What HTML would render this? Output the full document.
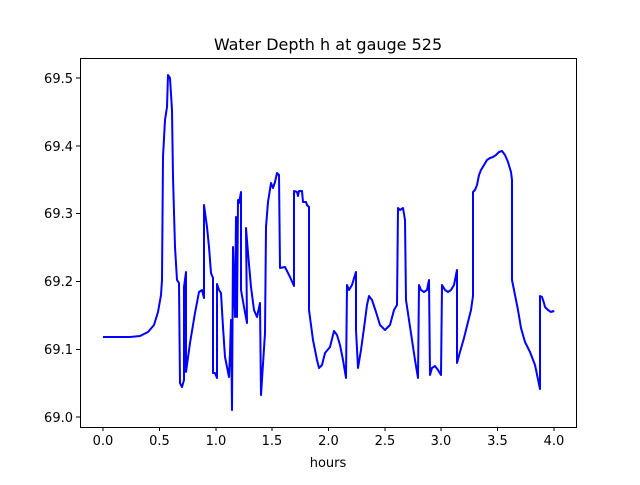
<!DOCTYPE html>
<html><head><style>
html,body{margin:0;padding:0;background:#fff;}
svg text{font-family:"DejaVu Sans","Liberation Sans",sans-serif;fill:#000;}
</style></head><body>
<svg width="640" height="480" viewBox="0 0 640 480" xmlns="http://www.w3.org/2000/svg">
<rect width="640" height="480" fill="#fff"/>
<text x="328" y="50" font-size="16" text-anchor="middle">Water Depth h at gauge 525</text>
<polyline fill="none" stroke="#0000ff" stroke-width="2" stroke-linejoin="round" points="
103,337 130,337 140,336 148,332 154,325 158,312 161,295 162,280 163,157 165,120 167,107 168,75 170,78 172,110 173,177 175,247 177,280 179,283 180,383 182,387 184,380 184,287 186,272 186,372 190,343 195,313 199,292 202,290 204,298 204,205 207,227 209,247 211,273 213,278 213,373 215,373 217,378 217,284 219,290 221,293 223,327 225,357 229,377 230,353 231,320 232,410 233,247 235,317 236,217 237,317 238,200 239,203 241,192 241,290 244,307 247,323 246,228 248,253 251,287 254,310 257,317 260,303 261,395 265,333 266,227 268,202 271,183 273,188 275,182 277,173 279,175 280,268 285,267 290,277 294,286 294,191 297,192 298,196 299,191 302,191 303,202 306,202 307,205 309,207 309,310 313,340 317,360 319,368 322,365 325,353 330,347 334,331 337,335 340,345 343,360 346,378 347,285 349,290 352,285 355,275 356,272 356,330 358,368 361,350 364,328 367,305 369,296 372,300 376,312 380,325 385,330 390,325 394,310 397,305 398,208 400,210 403,208 405,220 406,300 409,320 412,340 415,360 418,378 419,285 421,290 424,292 427,290 429,280 430,375 432,368 435,366 438,370 441,375 442,285 445,290 448,292 451,290 454,285 456,275 457,270 457,363 460,352 464,338 468,322 471,310 473,296 473,192 475,190 477,185 479,175 481,170 484,165 487,160 490,158 493,157 496,155 499,152 502,151 505,155 508,162 511,172 512,180 512,280 515,295 518,310 521,328 525,342 530,352 535,365 540,389 540,296 542,297 544,303 545,307 548,310 551,312 553,311 554,312"/>
<rect x="80.5" y="58.5" width="496" height="369" fill="none" stroke="#000" stroke-width="1"/>
<g stroke="#000" stroke-width="1">
<line x1="103" y1="427" x2="103" y2="431"/><line x1="159.5" y1="427" x2="159.5" y2="431"/><line x1="216" y1="427" x2="216" y2="431"/><line x1="272" y1="427" x2="272" y2="431"/><line x1="328.5" y1="427" x2="328.5" y2="431"/><line x1="385" y1="427" x2="385" y2="431"/><line x1="441" y1="427" x2="441" y2="431"/><line x1="497.5" y1="427" x2="497.5" y2="431"/><line x1="554" y1="427" x2="554" y2="431"/>
<line x1="76" y1="417" x2="80" y2="417"/><line x1="76" y1="349.5" x2="80" y2="349.5"/><line x1="76" y1="281.5" x2="80" y2="281.5"/><line x1="76" y1="213.5" x2="80" y2="213.5"/><line x1="76" y1="146" x2="80" y2="146"/><line x1="76" y1="78" x2="80" y2="78"/>
</g>
<g font-size="13" text-anchor="middle">
<text x="103" y="445">0.0</text><text x="159.5" y="445">0.5</text><text x="216" y="445">1.0</text><text x="272" y="445">1.5</text><text x="328.5" y="445">2.0</text><text x="385" y="445">2.5</text><text x="441" y="445">3.0</text><text x="497.5" y="445">3.5</text><text x="554" y="445">4.0</text>
<text x="328" y="467">hours</text>
</g>
<g font-size="13" text-anchor="end">
<text x="73" y="422">69.0</text><text x="73" y="354">69.1</text><text x="73" y="286">69.2</text><text x="73" y="218">69.3</text><text x="73" y="151">69.4</text><text x="73" y="83">69.5</text>
</g>
</svg>
</body></html>
